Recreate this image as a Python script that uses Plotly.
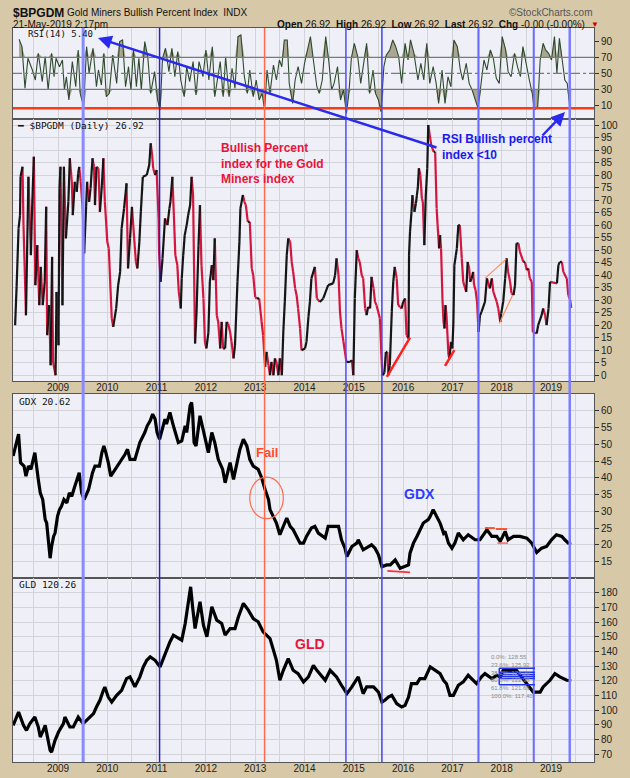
import plotly.graph_objects as go
from plotly.subplots import make_subplots

# values, x in decimal years
years = list(range(2009, 2020))
signal_x = [2009.51, 2011.06, 2013.19, 2014.84, 2015.57, 2017.53, 2018.65, 2019.38]

rsi_x = [2008.21, 2008.27, 2008.33, 2008.39, 2008.48, 2008.54, 2008.60, 2008.68, 2008.74, 2008.80,
         2008.87, 2008.92, 2008.96, 2009.03, 2009.09, 2009.13, 2009.17, 2009.22, 2009.29, 2009.36,
         2009.41, 2009.45, 2009.52, 2009.58, 2009.63, 2009.71, 2009.78, 2009.82, 2009.88, 2009.93,
         2009.98, 2010.04, 2010.11, 2010.19, 2010.25, 2010.31, 2010.37, 2010.43, 2010.48, 2010.53,
         2010.59, 2010.64, 2010.69, 2010.76, 2010.82, 2010.88, 2010.96, 2011.02, 2011.07, 2011.12,
         2011.18, 2011.25, 2011.31, 2011.37, 2011.43, 2011.49, 2011.56, 2011.61, 2011.67, 2011.74,
         2011.80, 2011.86, 2011.94, 2012.00, 2012.06, 2012.13, 2012.18, 2012.22, 2012.29, 2012.35,
         2012.40, 2012.47, 2012.53, 2012.59, 2012.65, 2012.71, 2012.78, 2012.84, 2012.89, 2012.96,
         2013.02, 2013.08, 2013.14, 2013.19, 2013.24, 2013.30, 2013.37, 2013.43, 2013.49, 2013.54,
         2013.59, 2013.65, 2013.69, 2013.76, 2013.81, 2013.87, 2013.94, 2014.00, 2014.06, 2014.12,
         2014.18, 2014.25, 2014.30, 2014.36, 2014.43, 2014.49, 2014.55, 2014.60, 2014.67, 2014.73,
         2014.79, 2014.85, 2014.90, 2014.95, 2015.01, 2015.08, 2015.14, 2015.20, 2015.26, 2015.32,
         2015.39, 2015.44, 2015.50, 2015.55, 2015.61, 2015.66, 2015.73, 2015.79, 2015.85, 2015.91,
         2015.97, 2016.04, 2016.10, 2016.15, 2016.22, 2016.30, 2016.36, 2016.42, 2016.48, 2016.54,
         2016.61, 2016.67, 2016.72, 2016.79, 2016.85, 2016.91, 2016.97, 2017.03, 2017.10, 2017.16,
         2017.21, 2017.28, 2017.34, 2017.40, 2017.46, 2017.52, 2017.59, 2017.64, 2017.70, 2017.77,
         2017.83, 2017.89, 2017.95, 2018.01, 2018.08, 2018.13, 2018.19, 2018.26, 2018.32, 2018.38,
         2018.43, 2018.50, 2018.56, 2018.62, 2018.66, 2018.73, 2018.78, 2018.84, 2018.89, 2018.95,
         2019.01, 2019.07, 2019.12, 2019.17, 2019.23, 2019.28, 2019.33, 2019.38, 2019.41]
rsi_y = [92.5, 83.3, 31.3, 68.8, 54.2, 41.7, 75.0, 39.6, 70.8, 29.2,
         75.0, 45.8, 68.8, 58.3, 66.7, 29.2, 45.8, 16.7, 64.6, 33.3,
         79.2, 25.0, 8.3, 83.3, 50.0, 81.3, 33.3, 54.2, 35.4, 75.0,
         20.8, 25.0, 72.9, 37.5, 89.6, 91.7, 33.3, 58.3, 29.2, 79.2,
         33.3, 68.8, 29.2, 89.6, 70.8, 25.0, 52.1, 16.7, 4.2, 68.8,
         81.3, 52.1, 81.3, 45.8, 77.1, 41.7, 20.8, 58.3, 39.6, 64.6,
         22.9, 64.6, 45.8, 79.2, 41.7, 83.3, 20.8, 37.5, 64.6, 20.8,
         70.8, 20.8, 56.3, 31.3, 95.8, 97.9, 45.8, 25.0, 54.2, 20.8,
         41.7, 16.7, 25.0, 4.2, 54.2, 25.0, 60.4, 41.7, 66.7, 58.3,
         91.7, 91.7, 37.5, 12.5, 41.7, 58.3, 37.5, 62.5, 79.2, 95.8,
         66.7, 33.3, 25.0, 41.7, 95.8, 66.7, 29.2, 37.5, 58.3, 16.7,
         29.2, 0.0, 25.0, 68.8, 87.5, 70.8, 37.5, 62.5, 87.5, 25.0,
         54.2, 25.0, 16.7, 2.1, 58.3, 72.9, 79.2, 91.7, 83.3, 70.8,
         37.5, 87.5, 66.7, 91.7, 75.0, 41.7, 62.5, 41.7, 87.5, 37.5,
         58.3, 37.5, 12.5, 54.2, 12.5, 45.8, 33.3, 91.7, 83.3, 54.2,
         41.7, 62.5, 37.5, 29.2, 16.7, 6.3, 41.7, 66.7, 54.2, 79.2,
         68.8, 43.8, 37.5, 95.8, 79.2, 52.1, 45.8, 75.0, 58.3, 45.8,
         83.3, 58.3, 41.7, 25.0, 4.2, 8.3, 66.7, 87.5, 79.2, 75.0,
         66.7, 95.8, 50.0, 93.8, 66.7, 41.7, 37.5, 8.3, 5.4]

bp_x = [2008.13, 2008.16, 2008.20, 2008.23, 2008.24, 2008.28, 2008.30, 2008.35, 2008.40, 2008.45,
        2008.47, 2008.51, 2008.54, 2008.58, 2008.62, 2008.65, 2008.69, 2008.73, 2008.76, 2008.78,
        2008.82, 2008.85, 2008.88, 2008.90, 2008.95, 2008.97, 2009.01, 2009.03, 2009.05, 2009.09,
        2009.12, 2009.16, 2009.21, 2009.24, 2009.28, 2009.30, 2009.34, 2009.38, 2009.41, 2009.43,
        2009.46, 2009.50, 2009.53, 2009.57, 2009.59, 2009.63, 2009.66, 2009.70, 2009.73, 2009.75,
        2009.78, 2009.82, 2009.85, 2009.89, 2009.92, 2009.95, 2010.00, 2010.03, 2010.09, 2010.12,
        2010.18, 2010.22, 2010.26, 2010.29, 2010.34, 2010.39, 2010.42, 2010.46, 2010.50, 2010.54,
        2010.58, 2010.61, 2010.65, 2010.68, 2010.72, 2010.80, 2010.85, 2010.88, 2010.91, 2010.93,
        2010.97, 2011.00, 2011.04, 2011.05, 2011.08, 2011.12, 2011.17, 2011.22, 2011.26, 2011.28,
        2011.32, 2011.35, 2011.38, 2011.42, 2011.45, 2011.49, 2011.51, 2011.54, 2011.57, 2011.61,
        2011.64, 2011.68, 2011.71, 2011.74, 2011.78, 2011.81, 2011.85, 2011.88, 2011.91, 2011.95,
        2011.98, 2012.01, 2012.05, 2012.08, 2012.12, 2012.15, 2012.18, 2012.22, 2012.25, 2012.29,
        2012.32, 2012.35, 2012.39, 2012.42, 2012.45, 2012.49, 2012.52, 2012.56, 2012.59, 2012.64,
        2012.68, 2012.70, 2012.75, 2012.78, 2012.81, 2012.85, 2012.89, 2012.93, 2012.96, 2013.00,
        2013.03, 2013.08, 2013.13, 2013.16, 2013.20, 2013.23, 2013.27, 2013.30, 2013.33, 2013.37,
        2013.40, 2013.43, 2013.47, 2013.50, 2013.54, 2013.57, 2013.60, 2013.64, 2013.67, 2013.71,
        2013.74, 2013.77, 2013.81, 2013.84, 2013.87, 2013.91, 2013.94, 2014.01, 2014.04, 2014.08,
        2014.11, 2014.14, 2014.21, 2014.25, 2014.31, 2014.38, 2014.48, 2014.58, 2014.62, 2014.65,
        2014.69, 2014.72, 2014.75, 2014.79, 2014.82, 2014.85, 2014.92, 2014.96, 2014.99, 2015.02,
        2015.06, 2015.09, 2015.12, 2015.16, 2015.19, 2015.23, 2015.26, 2015.29, 2015.33, 2015.36,
        2015.40, 2015.43, 2015.46, 2015.53, 2015.56, 2015.58, 2015.62, 2015.65, 2015.68, 2015.70,
        2015.73, 2015.77, 2015.80, 2015.83, 2015.87, 2015.90, 2015.94, 2015.97, 2016.00, 2016.04,
        2016.07, 2016.11, 2016.12, 2016.14, 2016.17, 2016.19, 2016.21, 2016.23, 2016.26, 2016.28,
        2016.30, 2016.32, 2016.35, 2016.38, 2016.40, 2016.43, 2016.46, 2016.49, 2016.51, 2016.54,
        2016.57, 2016.62, 2016.65, 2016.68, 2016.70, 2016.73, 2016.75, 2016.77, 2016.80, 2016.82,
        2016.84, 2016.86, 2016.88, 2016.92, 2016.94, 2016.97, 2017.00, 2017.02, 2017.04, 2017.07,
        2017.09, 2017.12, 2017.15, 2017.19, 2017.22, 2017.28, 2017.31, 2017.34, 2017.36, 2017.39,
        2017.42, 2017.44, 2017.47, 2017.50, 2017.53, 2017.56, 2017.59, 2017.66, 2017.70, 2017.76,
        2017.80, 2017.83, 2017.90, 2017.93, 2017.97, 2017.99, 2018.03, 2018.07, 2018.10, 2018.13,
        2018.17, 2018.20, 2018.24, 2018.27, 2018.30, 2018.34, 2018.37, 2018.44, 2018.47, 2018.51,
        2018.54, 2018.57, 2018.61, 2018.63, 2018.71, 2018.74, 2018.81, 2018.84, 2018.88, 2018.91,
        2018.95, 2018.98, 2019.12, 2019.15, 2019.18, 2019.22, 2019.25, 2019.32, 2019.35, 2019.39,
        2019.41]
bp_y = [20.0, 35.3, 58.7, 64.0, 79.3, 83.3, 60.0, 24.0, 79.3, 48.0,
        64.0, 87.3, 36.0, 52.0, 28.0, 43.3, 28.0, 37.3, 67.3, 16.0,
        28.0, 4.0, 47.3, 5.3, 0.0, 33.3, 12.0, 74.7, 83.3, 28.0,
        83.3, 54.7, 69.3, 86.7, 77.3, 64.0, 77.3, 73.3, 80.7, 83.3,
        77.3, 66.7, 48.7, 67.3, 77.3, 69.3, 74.7, 86.7, 83.3, 68.0,
        83.3, 82.7, 65.3, 76.0, 86.7, 69.3, 53.3, 50.7, 22.7, 19.3,
        26.7, 36.0, 41.3, 58.7, 66.7, 76.7, 42.7, 54.7, 67.3, 56.0,
        45.3, 42.7, 53.3, 65.3, 79.3, 80.0, 84.0, 92.7, 88.0, 82.7,
        80.0, 82.0, 62.7, 49.3, 37.3, 46.7, 62.7, 60.0, 66.7, 69.3,
        79.3, 64.0, 48.0, 44.0, 33.3, 26.7, 38.7, 48.0, 56.0, 60.0,
        64.0, 68.0, 79.3, 72.0, 12.7, 25.3, 52.0, 68.0, 44.0, 30.7,
        13.3, 10.7, 17.0, 37.3, 44.0, 38.0, 54.7, 24.0, 21.3, 10.7,
        21.3, 10.7, 10.7, 21.3, 20.7, 17.3, 13.3, 6.7, 12.0, 37.3,
        53.3, 66.7, 72.0, 69.3, 68.0, 61.3, 61.3, 42.7, 40.0, 31.3,
        30.7, 30.7, 21.3, 16.0, 3.3, 9.3, 4.0, 0.0, 5.3, 0.0,
        6.7, 5.3, 0.0, 6.7, 0.0, 17.3, 29.3, 48.0, 54.7, 53.3,
        45.3, 41.3, 34.7, 32.0, 26.7, 18.7, 10.0, 10.7, 13.3, 23.3,
        29.3, 38.7, 43.3, 30.7, 29.3, 30.7, 36.0, 36.7, 40.0, 46.7,
        40.0, 25.3, 18.7, 13.3, 9.3, 5.3, 5.3, 6.0, 0.0, 30.7,
        50.0, 46.7, 45.3, 40.0, 38.7, 26.7, 24.0, 27.3, 26.7, 39.3,
        34.7, 29.3, 28.0, 22.7, 8.0, 0.0, 1.0, 9.3, 9.3, 0.0,
        4.0, 25.3, 37.3, 43.3, 38.7, 28.0, 27.3, 26.7, 29.3, 30.7,
        16.0, 14.7, 48.0, 57.3, 65.3, 72.0, 68.7, 65.3, 68.7, 72.0,
        75.3, 82.7, 80.0, 70.7, 69.3, 52.0, 72.0, 82.7, 100.0, 96.0,
        92.0, 89.3, 89.3, 66.7, 60.0, 50.7, 56.0, 50.7, 29.3, 21.3,
        18.7, 28.0, 24.0, 8.0, 6.7, 13.3, 10.7, 21.3, 44.0, 48.0,
        50.7, 60.0, 60.0, 46.7, 37.3, 33.3, 45.3, 42.7, 37.3, 38.7,
        41.3, 36.0, 34.0, 29.3, 17.3, 24.0, 25.3, 29.3, 38.7, 34.7,
        38.7, 33.3, 29.3, 26.7, 21.3, 24.7, 29.3, 38.7, 46.7, 41.3,
        37.3, 32.7, 32.0, 36.0, 52.7, 52.7, 49.3, 45.3, 45.3, 42.0,
        42.7, 38.7, 37.3, 17.3, 16.7, 20.0, 24.0, 26.7, 24.0, 20.0,
        26.7, 37.3, 36.7, 44.0, 45.3, 45.3, 41.3, 38.7, 32.0, 30.0,
        26.92]

gdx_x = [2008.09, 2008.16, 2008.20, 2008.24, 2008.31, 2008.35, 2008.40, 2008.45, 2008.53, 2008.60,
         2008.64, 2008.69, 2008.74, 2008.77, 2008.80, 2008.84, 2008.87, 2008.91, 2008.94, 2008.99,
         2009.03, 2009.07, 2009.12, 2009.18, 2009.23, 2009.28, 2009.32, 2009.38, 2009.43, 2009.48,
         2009.53, 2009.62, 2009.70, 2009.75, 2009.84, 2009.89, 2009.93, 2009.97, 2010.02, 2010.07,
         2010.16, 2010.26, 2010.36, 2010.41, 2010.46, 2010.56, 2010.66, 2010.76, 2010.81, 2010.87,
         2010.92, 2010.97, 2011.01, 2011.06, 2011.14, 2011.17, 2011.20, 2011.27, 2011.34, 2011.41,
         2011.44, 2011.51, 2011.58, 2011.61, 2011.68, 2011.71, 2011.73, 2011.76, 2011.80, 2011.88,
         2011.95, 2012.02, 2012.05, 2012.12, 2012.18, 2012.25, 2012.34, 2012.39, 2012.49, 2012.56,
         2012.62, 2012.69, 2012.76, 2012.83, 2012.89, 2012.96, 2013.06, 2013.13, 2013.20, 2013.27,
         2013.30, 2013.37, 2013.43, 2013.50, 2013.57, 2013.64, 2013.71, 2013.77, 2013.84, 2013.91,
         2013.98, 2014.04, 2014.14, 2014.21, 2014.28, 2014.42, 2014.48, 2014.59, 2014.69, 2014.75,
         2014.82, 2014.86, 2014.96, 2015.06, 2015.09, 2015.19, 2015.30, 2015.36, 2015.43, 2015.50,
         2015.57, 2015.67, 2015.74, 2015.84, 2015.94, 2016.04, 2016.11, 2016.14, 2016.21, 2016.28,
         2016.34, 2016.41, 2016.51, 2016.55, 2016.61, 2016.68, 2016.75, 2016.82, 2016.85, 2016.92,
         2016.99, 2017.05, 2017.12, 2017.22, 2017.32, 2017.46, 2017.56, 2017.70, 2017.80, 2017.90,
         2017.97, 2018.07, 2018.13, 2018.24, 2018.37, 2018.51, 2018.61, 2018.71, 2018.81, 2018.91,
         2019.01, 2019.11, 2019.22, 2019.28, 2019.35, 2019.41]
gdx_y = [46.5, 50.5, 53.0, 44.5, 43.5, 40.5, 43.5, 42.5, 47.5, 39.5,
         35.5, 33.5, 27.5, 26.5, 22.5, 16.0, 19.5, 22.5, 23.5, 28.5,
         30.5, 31.5, 33.5, 32.5, 35.5, 34.5, 36.5, 39.5, 41.5, 35.5,
         33.5, 36.5, 41.5, 43.5, 43.5, 47.5, 49.5, 47.5, 44.5, 40.5,
         42.5, 44.5, 47.0, 48.5, 45.5, 45.5, 50.5, 53.5, 55.5, 57.0,
         59.0, 57.5, 53.5, 51.5, 55.5, 57.5, 56.0, 59.5, 55.5, 52.5,
         50.5, 51.0, 55.5, 53.5, 61.5, 62.5, 59.5, 50.5, 49.5, 58.5,
         53.5, 48.5, 47.5, 53.5, 50.5, 45.5, 42.5, 38.5, 44.5, 39.5,
         43.5, 48.5, 51.5, 49.5, 45.5, 43.5, 42.5, 40.0, 36.5, 33.5,
         30.5, 28.5, 26.5, 23.0, 25.5, 28.0, 25.5, 24.5, 22.5, 20.5,
         20.5, 22.5, 25.0, 25.5, 23.5, 22.0, 25.5, 25.5, 25.5, 21.5,
         19.0, 16.5, 19.5, 20.5, 21.5, 18.5, 19.5, 20.0, 19.0, 17.0,
         13.5, 14.0, 14.0, 15.5, 13.0, 13.5, 14.0, 17.5, 20.5, 22.5,
         24.5, 26.5, 27.5, 28.5, 30.5, 28.5, 26.5, 23.5, 24.0, 20.5,
         19.0, 20.5, 23.5, 21.5, 23.0, 21.5, 21.5, 24.5, 22.5, 22.5,
         21.0, 24.0, 21.5, 22.5, 22.5, 22.0, 20.5, 17.7, 19.0, 19.5,
         21.5, 23.0, 22.5, 21.5, 20.5, 20.62]

gld_x = [2008.09, 2008.20, 2008.30, 2008.36, 2008.43, 2008.53, 2008.60, 2008.64, 2008.70, 2008.74,
         2008.80, 2008.84, 2008.87, 2008.94, 2009.01, 2009.11, 2009.14, 2009.24, 2009.31, 2009.41,
         2009.51, 2009.62, 2009.72, 2009.78, 2009.85, 2009.92, 2009.95, 2010.02, 2010.09, 2010.19,
         2010.29, 2010.39, 2010.46, 2010.56, 2010.66, 2010.73, 2010.80, 2010.87, 2010.97, 2011.07,
         2011.17, 2011.27, 2011.34, 2011.44, 2011.51, 2011.58, 2011.61, 2011.66, 2011.69, 2011.73,
         2011.78, 2011.88, 2011.95, 2012.02, 2012.12, 2012.22, 2012.32, 2012.39, 2012.49, 2012.59,
         2012.66, 2012.76, 2012.86, 2012.96, 2013.06, 2013.16, 2013.30, 2013.37, 2013.43, 2013.50,
         2013.57, 2013.67, 2013.77, 2013.87, 2013.98, 2014.08, 2014.18, 2014.25, 2014.31, 2014.42,
         2014.52, 2014.65, 2014.75, 2014.86, 2014.96, 2015.09, 2015.19, 2015.26, 2015.40, 2015.50,
         2015.57, 2015.63, 2015.70, 2015.77, 2015.87, 2015.97, 2016.04, 2016.11, 2016.17, 2016.28,
         2016.34, 2016.44, 2016.55, 2016.65, 2016.75, 2016.82, 2016.88, 2016.95, 2017.02, 2017.12,
         2017.22, 2017.32, 2017.42, 2017.49, 2017.59, 2017.66, 2017.80, 2017.90, 2017.97, 2018.03,
         2018.17, 2018.30, 2018.40, 2018.51, 2018.64, 2018.78, 2018.84, 2018.98, 2019.08, 2019.18,
         2019.32, 2019.41]
gld_y = [89.7, 98.8, 89.7, 86.3, 90.9, 95.4, 88.6, 81.8, 86.3, 89.7,
         79.5, 72.7, 71.5, 79.5, 85.2, 90.9, 95.4, 88.6, 88.6, 95.4,
         90.9, 94.3, 97.7, 102.2, 106.8, 113.6, 115.8, 109.0, 105.6, 110.2,
         113.6, 121.5, 122.7, 115.9, 122.7, 129.5, 134.0, 136.3, 134.0, 129.5,
         138.6, 146.5, 151.1, 148.8, 147.7, 159.0, 165.9, 177.2, 184.0, 170.4,
         155.6, 173.8, 157.9, 150.0, 170.4, 161.3, 159.0, 151.1, 155.6, 155.6,
         163.6, 172.7, 168.1, 162.4, 160.2, 153.4, 148.8, 140.9, 134.0, 120.4,
         127.2, 135.2, 127.2, 124.9, 119.3, 122.7, 130.6, 127.2, 124.9, 120.4,
         127.2, 122.7, 117.0, 111.3, 115.9, 122.7, 111.3, 115.9, 115.9, 112.4,
         105.6, 106.8, 109.0, 110.2, 104.5, 102.2, 103.3, 109.0, 118.1, 118.1,
         121.5, 121.5, 129.5, 127.2, 124.9, 120.4, 118.1, 110.2, 110.2, 117.0,
         119.3, 123.8, 120.4, 118.1, 122.7, 124.9, 121.5, 123.8, 122.7, 127.2,
         127.2, 127.2, 122.7, 118.1, 112.4, 112.4, 115.9, 120.4, 124.9, 122.7,
         120.4, 120.26]

# hand-drawn marks on the original chart (data coordinates)
bp_red_lines = [(2015.67, -0.7, 2016.14, 15.0), (2016.85, 3.7, 2017.04, 10.0)]
bp_orange_lines = [(2017.66, 38.7, 2018.09, 46.4), (2017.95, 20.7, 2018.22, 32.0)]
gdx_marks = [(2015.68, 12.2, 2016.14, 11.8, '#ff3030'), (2017.66, 25.0, 2017.86, 25.0, '#ff4422'),
             (2017.88, 24.7, 2018.11, 24.7, '#ff4422'), (2017.91, 20.5, 2018.13, 20.5, '#ff7a7a')]
fib_start, fib_end = 2017.95, 2018.675
fib_levels = [128.55, 125.92, 124.29, 122.98, 121.66, 117.40]
fib_names = ['0.0%', '23.6%', '38.2%', '50.0%', '61.8%', '100.0%']
rsi_floor = 6.3

x_lo, x_hi = 2008.087, 2019.872
tan = '#d7c8a8'
grid = '#d3d3d8'
sans = 'Liberation Sans, Arial, sans-serif'
mono = 'DejaVu Sans Mono, monospace'
line_colors = ['#8a8aff', '#2020dd', '#ff6a4a', '#4c4cff', '#4444ee', '#6a6aff', '#6a6aff', '#7c7cff']
line_widths = [3, 1.5, 1.5, 1.5, 1.5, 2, 2, 2.5]

fig = make_subplots(rows=4, cols=1, shared_xaxes=True, vertical_spacing=0)

# RSI panel, shaded above 70 and below 30
n = len(rsi_x)
fig.add_trace(go.Scatter(x=rsi_x, y=[70] * n, mode='lines', line=dict(width=0)), 1, 1)
fig.add_trace(go.Scatter(x=rsi_x, y=[max(v, 70) for v in rsi_y], mode='lines', line=dict(width=0),
                         fill='tonexty', fillcolor='#a9a692'), 1, 1)
fig.add_trace(go.Scatter(x=rsi_x, y=[30] * n, mode='lines', line=dict(width=0)), 1, 1)
fig.add_trace(go.Scatter(x=rsi_x, y=[min(v, 30) for v in rsi_y], mode='lines', line=dict(width=0),
                         fill='tonexty', fillcolor='#a9a692'), 1, 1)
fig.add_trace(go.Scatter(x=rsi_x, y=rsi_y, mode='lines', line=dict(color='#2e4a2e', width=1.1)), 1, 1)

# Bullish percent line: black when rising, red when falling
up_x, up_y, dn_x, dn_y = [], [], [], []
for i in range(len(bp_x) - 1):
    sx = [bp_x[i], bp_x[i + 1], None]
    sy = [bp_y[i], bp_y[i + 1], None]
    if bp_y[i + 1] >= bp_y[i]:
        up_x += sx
        up_y += sy
    else:
        dn_x += sx
        dn_y += sy
fig.add_trace(go.Scatter(x=dn_x, y=dn_y, mode='lines', line=dict(color='#d3163f', width=2.2)), 2, 1)
fig.add_trace(go.Scatter(x=up_x, y=up_y, mode='lines', line=dict(color='#151515', width=2.2)), 2, 1)

fig.add_trace(go.Scatter(x=gdx_x, y=gdx_y, mode='lines', line=dict(color='black', width=3.2)), 3, 1)
fig.add_trace(go.Scatter(x=gld_x, y=gld_y, mode='lines', line=dict(color='black', width=3.2)), 4, 1)

half_years = [2008.5] + [y + 0.5 for y in years]
fig.update_xaxes(range=[x_lo, x_hi], tickmode='array', tickvals=years, ticktext=[str(y) for y in years],
                 showgrid=True, gridcolor=grid, minor=dict(tickvals=half_years, showgrid=True, gridcolor=grid),
                 showline=True, linecolor='#555', mirror=True, ticks='', zeroline=False, automargin=False,
                 ticklabelstandoff=-3, tickfont=dict(family=sans, size=10, color='#222'))
fig.update_xaxes(showticklabels=True, row=2, col=1)
fig.update_xaxes(showticklabels=True, row=4, col=1)

fig.update_yaxes(side='right', ticks='outside', ticklen=4, tickcolor='#333', showline=True,
                 linecolor='#555', mirror=True, gridcolor=grid, zeroline=False, automargin=False,
                 tickfont=dict(family=sans, size=10, color='#222'))
fig.update_yaxes(domain=[0.876, 1.0], range=[-7, 106.6], tickvals=[10, 30, 50, 70, 90], showgrid=False, row=1, col=1)
fig.update_yaxes(domain=[0.5191, 0.876], range=[-2.3, 102.4], tickvals=list(range(0, 101, 5)), row=2, col=1)
fig.update_yaxes(domain=[0.2507, 0.5014], range=[10.1, 65], tickvals=list(range(15, 61, 5)), row=3, col=1)
fig.update_yaxes(domain=[0.0, 0.2507], range=[64.8, 190], tickvals=list(range(70, 181, 10)), row=4, col=1)

shapes = []
for lvl, dash in [(70, 'solid'), (50, 'dashdot'), (30, 'solid')]:
    shapes.append(dict(type='line', xref='x domain', x0=0, x1=1, yref='y', y0=lvl, y1=lvl,
                       line=dict(color='#7a7a7a', width=1.2, dash=dash)))
shapes.append(dict(type='line', xref='x domain', x0=0, x1=1, yref='y', y0=rsi_floor, y1=rsi_floor,
                   line=dict(color='#ff3a10', width=2.5)))
for sx, c, w in zip(signal_x, line_colors, line_widths):
    shapes.append(dict(type='line', xref='x', x0=sx, x1=sx, yref='paper', y0=0, y1=1,
                       line=dict(color=c, width=w)))
for x0, y0, x1, y1 in bp_red_lines:
    shapes.append(dict(type='line', xref='x2', yref='y2', x0=x0, y0=y0, x1=x1, y1=y1,
                       line=dict(color='#ff2020', width=2.5)))
for x0, y0, x1, y1 in bp_orange_lines:
    shapes.append(dict(type='line', xref='x2', yref='y2', x0=x0, y0=y0, x1=x1, y1=y1,
                       line=dict(color='#ff8a5a', width=1.2)))
for x0, y0, x1, y1, c in gdx_marks:
    shapes.append(dict(type='line', xref='x3', yref='y3', x0=x0, y0=y0, x1=x1, y1=y1,
                       line=dict(color=c, width=1.8)))
shapes.append(dict(type='circle', xref='x3', yref='y3', x0=2012.89, x1=2013.57, y0=27.8, y1=40.2,
                   line=dict(color='#ff6a4a', width=1.2)))
for lev in fib_levels:
    shapes.append(dict(type='line', xref='x4', yref='y4', x0=fib_start, x1=fib_end, y0=lev, y1=lev,
                       line=dict(color='#2233ee', width=1.5)))
shapes.append(dict(type='line', xref='x4', yref='y4', x0=fib_start, x1=fib_start,
                   y0=fib_levels[-1], y1=fib_levels[0], line=dict(color='#2233ee', width=1.5)))


def P(x, y):
    # pixel position on the 630x778 page -> paper coords
    return dict(x=(x - 13) / 581, y=(762 - y) / 734, xref='paper', yref='paper')


def txt(x, y, text, size=10, color='#111', family=sans, xanchor='left', yanchor='middle'):
    return dict(**P(x, y), text=text, showarrow=False, xanchor=xanchor, yanchor=yanchor, align='left',
                font=dict(family=family, size=size, color=color))


fib_text = '<br>'.join(f'{name}: {lev:.2f}' for name, lev in zip(fib_names, fib_levels))

ann = [
    txt(11, 13, '<b>$BPGDM</b>', size=12),
    txt(65, 13, 'Gold Miners Bullish Percent Index  INDX', size=10),
    txt(595, 13, '©StockCharts.com', size=10, color='#555', xanchor='right'),
    txt(11, 25, '21-May-2019 2:17pm', size=10),
    txt(587, 25, '<b>Open</b> 26.92  <b>High</b> 26.92  <b>Low</b> 26.92  <b>Last</b> 26.92  '
                 '<b>Chg</b> -0.00 (-0.00%)', size=10, xanchor='right'),
    txt(589, 25, '▼', size=8, color='#cc0000'),
    txt(26, 34, 'RSI(14) 5.40', size=9, family=mono),
    txt(15, 126, '<b>━</b> $BPGDM (Daily) 26.92', size=9.5, family=mono),
    txt(17, 401, 'GDX 20.62', size=9.5, family=mono),
    txt(17, 584, 'GLD 120.26', size=9.5, family=mono),
    txt(219, 164, '<b>Bullish Percent<br>index for the Gold<br>Miners index</b>', size=12, color='#e8143c'),
    txt(440, 147, '<b>RSI Bullish percent<br>index &lt;10</b>', size=12, color='#1a1aee'),
    txt(267, 453, '<b>Fail</b>', size=13, color='#ff4a2a', xanchor='center'),
    txt(419, 494, '<b>GDX</b>', size=14, color='#2a3cff', xanchor='center'),
    txt(310, 644, '<b>GLD</b>', size=14, color='#e8143c', xanchor='center'),
    txt(535, 676, fib_text, size=6, color='#8c8c8c', xanchor='right'),
    dict(**P(98, 38), ax=340, ay=110, text='', showarrow=True, arrowhead=2, arrowsize=1.1,
         arrowwidth=2.5, arrowcolor='#2a2aee'),
    dict(**P(565, 112), ax=-24, ay=25, text='', showarrow=True, arrowhead=2, arrowsize=1.1,
         arrowwidth=2.5, arrowcolor='#2a2aee'),
]

fig.update_layout(width=630, height=778, margin=dict(l=13, r=36, t=28, b=16),
                  paper_bgcolor=tan, plot_bgcolor='#eff0f7', showlegend=False,
                  shapes=shapes, annotations=ann, hovermode=False)
# the page's default body margin would push the chart 8px off the window
fig.write_html("out.html", config={'displayModeBar': False},
               post_script="document.body.style.margin = '0';")
